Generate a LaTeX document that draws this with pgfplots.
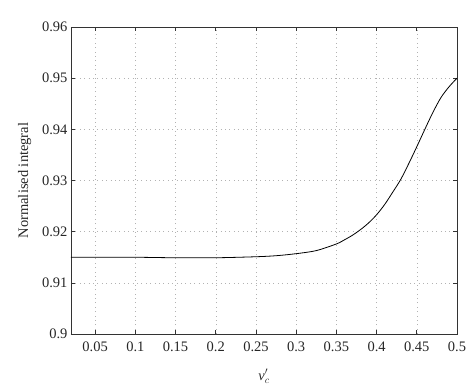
\documentclass[border=0pt]{standalone}
\usepackage{fontspec}
\setmainfont{Liberation Serif}
\usepackage{pgfplots}
\pgfplotsset{compat=1.18}
\begin{document}
\begin{tikzpicture}
\path[use as bounding box] (-71pt,-52pt) rectangle (402pt,334pt);
\begin{axis}[
  at={(0,0)}, anchor=south west,
  scale only axis, width=386pt, height=307pt,
  xmin=0.02, xmax=0.5, ymin=0.9, ymax=0.96,
  xtick={0.05,0.1,...,0.5},
  xticklabels={0.05,0.1,0.15,0.2,0.25,0.3,0.35,0.4,0.45,0.5},
  ytick={0.9,0.91,...,0.96},
  yticklabels={0.9,0.91,0.92,0.93,0.94,0.95,0.96},
  /pgf/number format/assume math mode=true,
  tick align=inside,
  major tick length=4pt,
  grid=major,
  major grid style={gray!60, line width=0.5pt, dash pattern=on 0.8pt off 3.6pt},
  axis line style={black!80, line width=0.8pt},
  every tick/.style={black!80, line width=0.6pt},
  tick label style={font=\fontsize{14.5}{16}\selectfont, black!85},
  xticklabel style={yshift=-4pt},
  xlabel={\textit{ν}$'_c$},
  ylabel={Normalised integral},
  label style={font=\fontsize{14.5}{16}\selectfont, black!85},
  xlabel style={yshift=-11pt},
  ylabel style={yshift=4pt},
]
\addplot[black, line width=0.8pt, smooth] coordinates {
(0.02,0.9150) (0.05,0.9150) (0.1,0.9150) (0.15,0.9149) (0.2,0.9149)
(0.25,0.9151) (0.275,0.9153) (0.3,0.9157) (0.325,0.9163) (0.35,0.9176)
(0.36,0.9184) (0.37,0.9193) (0.38,0.9204) (0.39,0.9217) (0.4,0.9233)
(0.41,0.9253) (0.42,0.9277) (0.43,0.9302) (0.44,0.9333) (0.45,0.9366)
(0.46,0.9400) (0.47,0.9433) (0.48,0.9462) (0.49,0.9483) (0.5,0.9500)
};
\end{axis}
\end{tikzpicture}
\end{document}
